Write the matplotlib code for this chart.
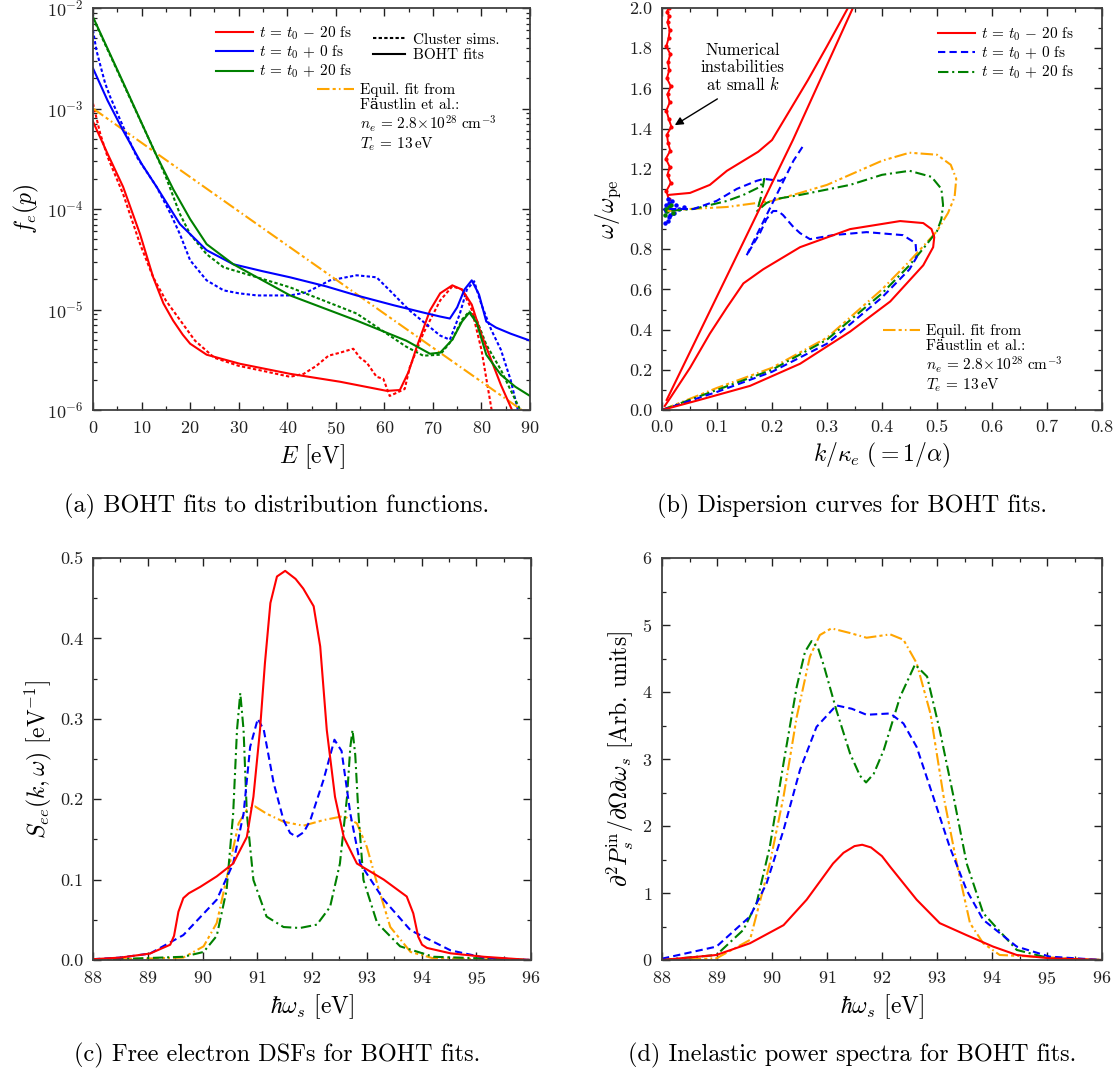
import matplotlib
matplotlib.use('Agg')
import matplotlib.pyplot as plt
from matplotlib.lines import Line2D
from matplotlib.ticker import MultipleLocator

plt.rcParams['font.family'] = ['cmr10', 'DejaVu Serif']
plt.rcParams['mathtext.fontset'] = 'cm'
plt.rcParams['axes.formatter.use_mathtext'] = True
plt.rcParams['axes.unicode_minus'] = True

RED, BLUE, GREEN, ORANGE = '#ff0000', '#0000ff', '#008000', '#ffa500'
DOTTED = (0, (1.6, 1.1))
DASHED = (0, (3.5, 2.0))
DASHDOT = (0, (5.0, 1.8, 1.0, 1.8))
EQUIL = (0, (6.0, 1.5, 1.5, 1.5, 0.8, 1.5))

# ---- (a) distribution functions: E [eV] vs f_e(p)
red_fit_E = [0, 3, 6.2, 9.7, 12.4, 14.5, 16.5, 18.5, 20, 23.4, 30.3, 40.6, 50.9, 60.5, 63.2, 65,
             66.7, 69.4, 71.5, 74, 76, 78, 80, 82, 84, 86.3]
red_fit_f = [7.41e-4, 3.55e-4, 1.66e-4, 5.6e-5, 2.09e-5, 1.15e-5, 7.76e-6, 5.6e-6, 4.57e-6,
             3.55e-6, 2.88e-6, 2.29e-6, 1.91e-6, 1.55e-6, 1.58e-6, 2.4e-6, 4.27e-6, 9.8e-6,
             1.45e-5, 1.74e-5, 1.58e-5, 1.12e-5, 5.6e-6, 3.16e-6, 1.78e-6, 1.0e-6]
red_sim_E = [0, 1.5, 3, 6.2, 9.7, 12.4, 15, 18, 21, 25, 30, 35, 40.6, 43.4, 46, 48.5, 50.9,
             53.6, 55, 56.4, 58.4, 59.8, 61.1, 62.5, 64.2, 65.2, 68, 71.5, 74, 76, 78, 80, 82.1]
red_sim_f = [1.12e-3, 5.6e-4, 3.3e-4, 1.41e-4, 4.47e-5, 2.09e-5, 1.23e-5, 7.76e-6, 4.9e-6,
             3.31e-6, 2.75e-6, 2.45e-6, 2.14e-6, 2.29e-6, 2.75e-6, 3.47e-6, 3.72e-6, 4.07e-6,
             3.31e-6, 2.95e-6, 2.14e-6, 2.04e-6, 1.38e-6, 1.48e-6, 1.62e-6, 2.63e-6, 5.75e-6,
             1.23e-5, 1.7e-5, 1.58e-5, 1.0e-5, 3.98e-6, 1.0e-6]
blue_fit_E = [0, 3, 6.2, 10, 13.1, 17.9, 23.4, 28.9, 35, 40.6, 48, 54.3, 62, 68, 71.5, 73.5,
              75, 76.5, 78, 79.5, 81, 83, 86, 90]
blue_fit_f = [2.51e-3, 1.2e-3, 6.03e-4, 2.82e-4, 1.66e-4, 7.08e-5, 3.89e-5, 2.82e-5, 2.4e-5,
              2.09e-5, 1.7e-5, 1.38e-5, 1.1e-5, 9.33e-6, 8.51e-6, 8.13e-6, 1.05e-5, 1.58e-5,
              1.95e-5, 1.41e-5, 7.59e-6, 6.61e-6, 5.75e-6, 4.9e-6]
blue_sim_E = [0, 0.7, 1.4, 2.5, 3.5, 6.2, 9, 13.1, 16, 17.9, 20, 23.4, 26.9, 30, 33.8, 40.6,
              44, 48.8, 54.3, 58.4, 61.1, 65.2, 71.5, 73.5, 75.5, 77, 78.5, 80, 82, 84, 86, 87.5]
blue_sim_f = [6.03e-3, 3.8e-3, 2.82e-3, 1.78e-3, 1.32e-3, 6.61e-4, 3.31e-4, 1.66e-4, 8.91e-5,
              5.62e-5, 3.09e-5, 1.95e-5, 1.55e-5, 1.45e-5, 1.38e-5, 1.38e-5, 1.48e-5, 1.95e-5,
              2.19e-5, 2.09e-5, 1.55e-5, 9.77e-6, 5.5e-6, 5.01e-6, 8.91e-6, 1.58e-5, 1.91e-5,
              1.12e-5, 6.31e-6, 3.98e-6, 2.0e-6, 1.0e-6]
green_fit_E = [0, 6.2, 12.8, 16.5, 20, 23.4, 28.9, 33.8, 40.6, 54.3, 64.5, 69.4, 71.5, 74, 76,
               77.5, 79, 81, 84, 87, 90]
green_fit_f = [8.13e-3, 1.82e-3, 3.63e-4, 1.58e-4, 7.94e-5, 4.47e-5, 2.82e-5, 2.09e-5, 1.38e-5,
               7.76e-6, 4.9e-6, 3.63e-6, 3.72e-6, 5.01e-6, 7.59e-6, 9.33e-6, 7.41e-6, 3.55e-6,
               2.24e-6, 1.7e-6, 1.38e-6]
green_sim_E = [0, 6.2, 13.1, 15, 17.9, 20, 23.4, 26.9, 33.8, 40.6, 54.3, 64.5, 68, 71.5, 74,
               76, 77.5, 79, 81, 84, 86, 88]
green_sim_f = [7.94e-3, 1.78e-3, 3.39e-4, 2.09e-4, 8.91e-5, 5.62e-5, 3.55e-5, 2.63e-5, 2.09e-5,
               1.66e-5, 9.12e-6, 4.27e-6, 3.47e-6, 3.55e-6, 5.01e-6, 7.94e-6, 9.55e-6, 7.94e-6,
               4.47e-6, 2.51e-6, 1.58e-6, 1.0e-6]
equil_E = [0, 30, 60, 88.3]
equil_f = [1.0e-3, 9.5e-5, 9.1e-6, 1.0e-6]

# ---- (b) dispersion curves: k/kappa_e vs omega/omega_pe
red_line_k = [0.0085, 0.124, 0.238, 0.347]
red_line_w = [0.05, 0.70, 1.343, 2.0]
red_upper_k = [0.0115, 0.051, 0.087, 0.118, 0.148, 0.175, 0.2, 0.23, 0.265, 0.3, 0.338]
red_upper_w = [1.07, 1.08, 1.12, 1.19, 1.24, 1.285, 1.343, 1.48, 1.64, 1.81, 2.0]
red_loop_k = [0, 0.068, 0.16, 0.251, 0.342, 0.415, 0.475, 0.493, 0.495, 0.49, 0.475, 0.433,
              0.342, 0.251, 0.184, 0.148, 0.118, 0.087, 0.051, 0.015, 0.005]
red_loop_w = [0, 0.05, 0.12, 0.23, 0.39, 0.54, 0.72, 0.81, 0.86, 0.90, 0.93, 0.94, 0.90, 0.81,
              0.70, 0.63, 0.51, 0.38, 0.21, 0.06, 0.02]
red_noise_k = [0.012, 0.008, 0.016, 0.010, 0.014, 0.007, 0.015, 0.011, 0.009, 0.017, 0.012,
               0.008, 0.014, 0.010, 0.016, 0.009, 0.013, 0.011, 0.015, 0.008, 0.012, 0.014,
               0.010, 0.013, 0.009, 0.012]
red_noise_w = [1.05, 1.09, 1.13, 1.17, 1.21, 1.25, 1.29, 1.33, 1.37, 1.41, 1.45, 1.49, 1.53,
               1.57, 1.61, 1.65, 1.69, 1.73, 1.77, 1.81, 1.85, 1.89, 1.93, 1.96, 1.98, 2.0]
blue_upper_k = [0.013, 0.057, 0.099, 0.136, 0.172, 0.185, 0.215, 0.224]
blue_upper_w = [1.0, 1.0, 1.04, 1.10, 1.14, 1.15, 1.14, 1.155]
blue_line_k = [0.154, 0.239, 0.258]
blue_line_w = [0.77, 1.24, 1.32]
blue_loop_k = [0, 0.1, 0.2, 0.3, 0.4, 0.45, 0.463, 0.461, 0.438, 0.372, 0.311, 0.269, 0.251,
               0.239, 0.22, 0.211, 0.202, 0.19, 0.178, 0.154]
blue_loop_w = [0, 0.09, 0.19, 0.33, 0.56, 0.70, 0.76, 0.83, 0.87, 0.885, 0.87, 0.85, 0.88,
               0.91, 0.97, 0.99, 0.99, 0.95, 0.88, 0.77]
blue_noise_k = [0.005, 0.012, 0.008, 0.020, 0.010, 0.030, 0.015, 0.006, 0.025, 0.011, 0.040,
                0.018, 0.007, 0.013, 0.022]
blue_noise_w = [0.93, 0.96, 1.02, 0.98, 1.05, 1.0, 0.97, 1.0, 1.02, 0.94, 1.01, 1.04, 0.99,
                1.03, 0.98]
green_k = [0, 0.1, 0.2, 0.3, 0.4, 0.45, 0.48, 0.5, 0.508, 0.511, 0.508, 0.49, 0.45, 0.4, 0.342,
           0.251, 0.208, 0.19, 0.173, 0.18, 0.186, 0.178, 0.148, 0.118, 0.057, 0.01]
green_w = [0, 0.1, 0.2, 0.35, 0.58, 0.72, 0.82, 0.89, 0.95, 1.02, 1.10, 1.16, 1.19, 1.17, 1.12,
           1.07, 1.05, 1.03, 0.99, 1.06, 1.15, 1.11, 1.07, 1.04, 1.0, 0.99]
green_noise_k = [0.006, 0.012, 0.009, 0.016, 0.020, 0.008]
green_noise_w = [0.97, 1.01, 0.99, 1.02, 0.98, 1.0]
orange_k = [0, 0.1, 0.2, 0.3, 0.4, 0.45, 0.5, 0.52, 0.532, 0.535, 0.525, 0.5, 0.45, 0.4, 0.35,
            0.3, 0.251, 0.2, 0.118, 0.05, 0.01]
orange_w = [0, 0.11, 0.21, 0.36, 0.60, 0.74, 0.89, 0.98, 1.06, 1.15, 1.22, 1.27, 1.28, 1.24,
            1.18, 1.12, 1.08, 1.04, 1.01, 1.0, 0.99]

# ---- (c) free electron DSFs
dsf_red_E = [88, 88.5, 89.04, 89.41, 89.48, 89.56, 89.65, 89.75, 89.96, 90.26, 90.56, 90.81,
             90.93, 91.05, 91.14, 91.24, 91.36, 91.51, 91.7, 91.84, 92.03, 92.15, 92.27, 92.42,
             92.58, 92.82, 93.31, 93.73, 93.85, 93.94, 94.01, 94.1, 94.53, 95.14, 96]
dsf_red_S = [0.001, 0.003, 0.008, 0.019, 0.03, 0.06, 0.077, 0.083, 0.091, 0.104, 0.12, 0.153,
             0.203, 0.286, 0.369, 0.444, 0.477, 0.484, 0.474, 0.462, 0.44, 0.39, 0.286, 0.203,
             0.153, 0.12, 0.1, 0.079, 0.058, 0.029, 0.019, 0.015, 0.0083, 0.004, 0.0]
dsf_blue_E = [88, 88.5, 89.04, 89.65, 90.26, 90.56, 90.75, 90.87, 91.01, 91.12, 91.3, 91.48,
              91.6, 91.72, 91.85, 91.97, 92.21, 92.41, 92.54, 92.7, 92.88, 93.31, 93.8, 94.53,
              95.14, 96]
dsf_blue_S = [0.001, 0.003, 0.008, 0.031, 0.075, 0.12, 0.182, 0.265, 0.30, 0.286, 0.22, 0.174,
              0.158, 0.153, 0.159, 0.174, 0.224, 0.274, 0.26, 0.182, 0.12, 0.075, 0.037, 0.012,
              0.003, 0.0]
dsf_green_E = [88, 89.65, 90.02, 90.26, 90.44, 90.56, 90.63, 90.69, 90.75, 90.81, 90.93, 91.17,
               91.48, 91.78, 92.09, 92.33, 92.51, 92.64, 92.70, 92.74, 92.79, 92.85, 92.94,
               93.19, 93.61, 94.22, 96]
dsf_green_S = [0.0, 0.004, 0.01, 0.03, 0.087, 0.182, 0.286, 0.332, 0.286, 0.182, 0.0995, 0.054,
               0.041, 0.0398, 0.044, 0.066, 0.12, 0.203, 0.265, 0.286, 0.255, 0.18, 0.0995,
               0.046, 0.017, 0.004, 0.0]
dsf_orange_E = [88, 89.65, 90.02, 90.26, 90.5, 90.66, 90.81, 90.96, 91.17, 91.48, 91.84, 92.21,
                92.58, 92.82, 93.0, 93.19, 93.43, 93.8, 94.22, 96]
dsf_orange_S = [0.0, 0.003, 0.017, 0.046, 0.12, 0.17, 0.187, 0.191, 0.182, 0.172, 0.167, 0.174,
                0.179, 0.17, 0.141, 0.095, 0.041, 0.01, 0.002, 0.0]

# ---- (d) inelastic power spectra
pw_red_E = [88, 88.99, 89.6, 90.21, 90.63, 91.11, 91.3, 91.5, 91.64, 91.8, 92.0, 92.15, 92.63,
            93.05, 93.54, 94.02, 94.45, 95.05, 96]
pw_red_P = [0.0, 0.075, 0.25, 0.52, 0.9, 1.44, 1.6, 1.7, 1.72, 1.68, 1.55, 1.39, 0.9, 0.55,
            0.37, 0.2, 0.075, 0.025, 0.0]
pw_blue_E = [88, 88.99, 89.6, 89.9, 90.21, 90.51, 90.81, 91.17, 91.45, 91.72, 92.15, 92.39,
             92.63, 92.93, 93.23, 93.54, 93.84, 94.45, 95.05, 96]
pw_blue_P = [0.02, 0.2, 0.65, 1.14, 1.94, 2.84, 3.48, 3.8, 3.75, 3.66, 3.68, 3.53, 3.18, 2.44,
             1.69, 1.04, 0.6, 0.2, 0.05, 0.0]
pw_green_E = [88, 88.99, 89.48, 89.72, 89.96, 90.21, 90.45, 90.6, 90.72, 90.84, 90.94, 91.17,
              91.42, 91.6, 91.71, 91.85, 92.03, 92.33, 92.6, 92.82, 93.05, 93.3, 93.54, 93.84,
              94.45, 95.05, 96]
pw_green_P = [0.0, 0.075, 0.45, 0.85, 1.69, 2.94, 4.08, 4.6, 4.76, 4.65, 4.4, 3.73, 3.08, 2.75,
              2.65, 2.78, 3.13, 3.93, 4.41, 4.23, 3.43, 2.44, 1.44, 0.7, 0.15, 0.025, 0.0]
pw_orange_E = [88, 88.99, 89.6, 89.96, 90.21, 90.45, 90.69, 90.87, 91.08, 91.42, 91.72, 92.15,
               92.39, 92.63, 92.88, 93.12, 93.36, 93.6, 93.84, 94.14, 96]
pw_orange_P = [0.0, 0.025, 0.3, 1.44, 2.44, 3.63, 4.53, 4.85, 4.95, 4.88, 4.81, 4.86, 4.78,
               4.43, 3.68, 2.44, 1.44, 0.55, 0.25, 0.075, 0.0]

time_labels = [r'$t\,=\,t_0\,-\,20\ \mathrm{fs}$', r'$t\,=\,t_0\,+\,0\ \mathrm{fs}$',
               r'$t\,=\,t_0\,+\,20\ \mathrm{fs}$']
equil_labels = ['Equil. fit from', 'Fäustlin et al.:',
                r'$n_e\,=\,2.8\!\times\!10^{28}\ \mathrm{cm}^{-3}$', r'$T_e\,=\,13\,\mathrm{eV}$']
captions = ['(a) BOHT fits to distribution functions.', '(b) Dispersion curves for BOHT fits.',
            '(c) Free electron DSFs for BOHT fits.', '(d) Inelastic power spectra for BOHT fits.']

LW = 1.5
TICK_FS = 13
LABEL_FS = 17
LEG_FS = 11
CAP_FS = 17.5


def style_axes(ax):
    for s in ax.spines.values():
        s.set_color('#404040')
        s.set_linewidth(1.3)
    ax.tick_params(which='both', direction='in', top=True, right=True, colors='#202020',
                   labelsize=TICK_FS, pad=7)
    ax.tick_params(which='major', length=6, width=1.0)
    ax.tick_params(which='minor', length=3, width=0.9)


def equil_legend(ax, x, y):
    handles = [Line2D([], [], color=ORANGE, lw=LW, ls=EQUIL)] + \
              [Line2D([], [], color='none') for _ in range(3)]
    leg = ax.legend(handles, equil_labels, loc='upper left', bbox_to_anchor=(x, y),
                    frameon=False, fontsize=LEG_FS, handlelength=2.4, handletextpad=0.4,
                    labelspacing=0.08, borderpad=0, borderaxespad=0)
    return leg


W, H = 1119, 1074
fig = plt.figure(figsize=(W / 100, H / 100), dpi=100)
ax_a = fig.add_axes([93 / W, 1 - 410 / H, 437 / W, 402 / H])
ax_b = fig.add_axes([662 / W, 1 - 410 / H, 440 / W, 402 / H])
ax_c = fig.add_axes([93 / W, 1 - 960 / H, 438 / W, 402 / H])
ax_d = fig.add_axes([662 / W, 1 - 960 / H, 440 / W, 402 / H])

# (a)
ax = ax_a
ax.plot(red_sim_E, red_sim_f, color=RED, lw=LW, ls=DOTTED)
ax.plot(blue_sim_E, blue_sim_f, color=BLUE, lw=LW, ls=DOTTED)
ax.plot(green_sim_E, green_sim_f, color=GREEN, lw=LW, ls=DOTTED)
ax.plot(equil_E, equil_f, color=ORANGE, lw=LW, ls=EQUIL)
ax.plot(red_fit_E, red_fit_f, color=RED, lw=LW)
ax.plot(blue_fit_E, blue_fit_f, color=BLUE, lw=LW)
ax.plot(green_fit_E, green_fit_f, color=GREEN, lw=LW)
ax.set_yscale('log')
ax.set_xlim(0, 90)
ax.set_ylim(1e-6, 1e-2)
ax.xaxis.set_major_locator(MultipleLocator(10))
ax.xaxis.set_minor_locator(MultipleLocator(5))
ax.set_xlabel(r'$E$ [eV]', fontsize=LABEL_FS)
ax.set_ylabel(r'$f_e(p)$', fontsize=LABEL_FS)
style_axes(ax)
h1 = [Line2D([], [], color=c, lw=LW) for c in (RED, BLUE, GREEN)]
leg1 = ax.legend(h1, time_labels, loc='upper left', bbox_to_anchor=((216 - 93) / 437, (410 - 24) / 402),
                 frameon=False, fontsize=LEG_FS, handlelength=2.4, handletextpad=0.4,
                 labelspacing=0.12, borderpad=0, borderaxespad=0)
ax.add_artist(leg1)
h2 = [Line2D([], [], color='k', lw=LW, ls=DOTTED), Line2D([], [], color='k', lw=LW)]
leg2 = ax.legend(h2, ['Cluster sims.', 'BOHT fits'], loc='upper left',
                 bbox_to_anchor=((373 - 93) / 437, (410 - 33) / 402),
                 frameon=False, fontsize=LEG_FS, handlelength=2.1, handletextpad=0.5,
                 labelspacing=0.12, borderpad=0, borderaxespad=0)
ax.add_artist(leg2)
equil_legend(ax, (317 - 93) / 437, (410 - 83) / 402)

# (b)
ax = ax_b
ax.plot(red_noise_k, red_noise_w, color=RED, lw=1.4, marker='o', ms=2.0)
ax.plot(blue_noise_k, blue_noise_w, color=BLUE, lw=0, marker='o', ms=2.2)
ax.plot(green_noise_k, green_noise_w, color=GREEN, lw=0, marker='o', ms=2.2)
ax.plot(orange_k, orange_w, color=ORANGE, lw=LW, ls=EQUIL)
ax.plot(green_k, green_w, color=GREEN, lw=LW, ls=DASHDOT)
ax.plot(blue_loop_k, blue_loop_w, color=BLUE, lw=LW, ls=DASHED)
ax.plot(blue_line_k, blue_line_w, color=BLUE, lw=LW, ls=DASHED)
ax.plot(blue_upper_k, blue_upper_w, color=BLUE, lw=LW, ls=DASHED)
ax.plot(red_loop_k, red_loop_w, color=RED, lw=LW)
ax.plot(red_line_k, red_line_w, color=RED, lw=LW)
ax.plot(red_upper_k, red_upper_w, color=RED, lw=LW)
ax.set_xlim(0, 0.8)
ax.set_ylim(0, 2.0)
ax.xaxis.set_major_locator(MultipleLocator(0.1))
ax.xaxis.set_minor_locator(MultipleLocator(0.05))
ax.yaxis.set_major_locator(MultipleLocator(0.2))
ax.yaxis.set_minor_locator(MultipleLocator(0.1))
ax.xaxis.set_major_formatter(plt.FormatStrFormatter('%.1f'))
ax.yaxis.set_major_formatter(plt.FormatStrFormatter('%.1f'))
ax.set_xlabel(r'$k/\kappa_e\ (=1/\alpha)$', fontsize=LABEL_FS)
ax.set_ylabel(r'$\omega/\omega_{\rm pe}$', fontsize=LABEL_FS)
style_axes(ax)
ax.text(0.147, 1.70, 'Numerical\ninstabilities\nat small $k$', ha='center', va='center',
        fontsize=12, linespacing=1.1)
ax.annotate('', xy=(0.019, 1.41), xytext=(0.105, 1.555),
            arrowprops=dict(arrowstyle='-|>', color='k', lw=1.0, mutation_scale=12))
hb = [Line2D([], [], color=RED, lw=LW), Line2D([], [], color=BLUE, lw=LW, ls=DASHED),
      Line2D([], [], color=GREEN, lw=LW, ls=DASHDOT)]
legb = ax.legend(hb, time_labels, loc='upper left', bbox_to_anchor=((938 - 662) / 440, (410 - 25) / 402),
                 frameon=False, fontsize=LEG_FS, handlelength=2.4, handletextpad=0.4,
                 labelspacing=0.12, borderpad=0, borderaxespad=0)
ax.add_artist(legb)
equil_legend(ax, (883 - 662) / 440, (410 - 324) / 402)

# (c)
ax = ax_c
ax.plot(dsf_orange_E, dsf_orange_S, color=ORANGE, lw=LW, ls=EQUIL)
ax.plot(dsf_green_E, dsf_green_S, color=GREEN, lw=LW, ls=DASHDOT)
ax.plot(dsf_blue_E, dsf_blue_S, color=BLUE, lw=LW, ls=DASHED)
ax.plot(dsf_red_E, dsf_red_S, color=RED, lw=LW)
ax.set_xlim(88, 96)
ax.set_ylim(0, 0.5)
ax.xaxis.set_major_locator(MultipleLocator(1))
ax.xaxis.set_minor_locator(MultipleLocator(0.5))
ax.yaxis.set_major_locator(MultipleLocator(0.1))
ax.yaxis.set_minor_locator(MultipleLocator(0.05))
ax.yaxis.set_major_formatter(plt.FormatStrFormatter('%.1f'))
ax.set_xlabel(r'$\hbar\omega_s$ [eV]', fontsize=LABEL_FS)
ax.set_ylabel(r'$S_{ee}(k,\omega)$ [eV$^{-1}$]', fontsize=LABEL_FS)
style_axes(ax)

# (d)
ax = ax_d
ax.plot(pw_orange_E, pw_orange_P, color=ORANGE, lw=LW, ls=EQUIL)
ax.plot(pw_green_E, pw_green_P, color=GREEN, lw=LW, ls=DASHDOT)
ax.plot(pw_blue_E, pw_blue_P, color=BLUE, lw=LW, ls=DASHED)
ax.plot(pw_red_E, pw_red_P, color=RED, lw=LW)
ax.set_xlim(88, 96)
ax.set_ylim(0, 6)
ax.xaxis.set_major_locator(MultipleLocator(1))
ax.xaxis.set_minor_locator(MultipleLocator(0.5))
ax.yaxis.set_major_locator(MultipleLocator(1))
ax.yaxis.set_minor_locator(MultipleLocator(0.5))
ax.set_xlabel(r'$\hbar\omega_s$ [eV]', fontsize=LABEL_FS)
ax.set_ylabel(r'$\partial^2 P_s^{\rm in}/\partial\Omega\partial\omega_s$ [Arb. units]',
              fontsize=LABEL_FS)
style_axes(ax)

# captions
for (cx, cy), txt in zip([(277, 506), (852, 506), (277, 1055), (852, 1055)], captions):
    fig.text(cx / W, 1 - cy / H, txt, ha='center', va='center', fontsize=CAP_FS)

fig.savefig('out.png', dpi=100)
